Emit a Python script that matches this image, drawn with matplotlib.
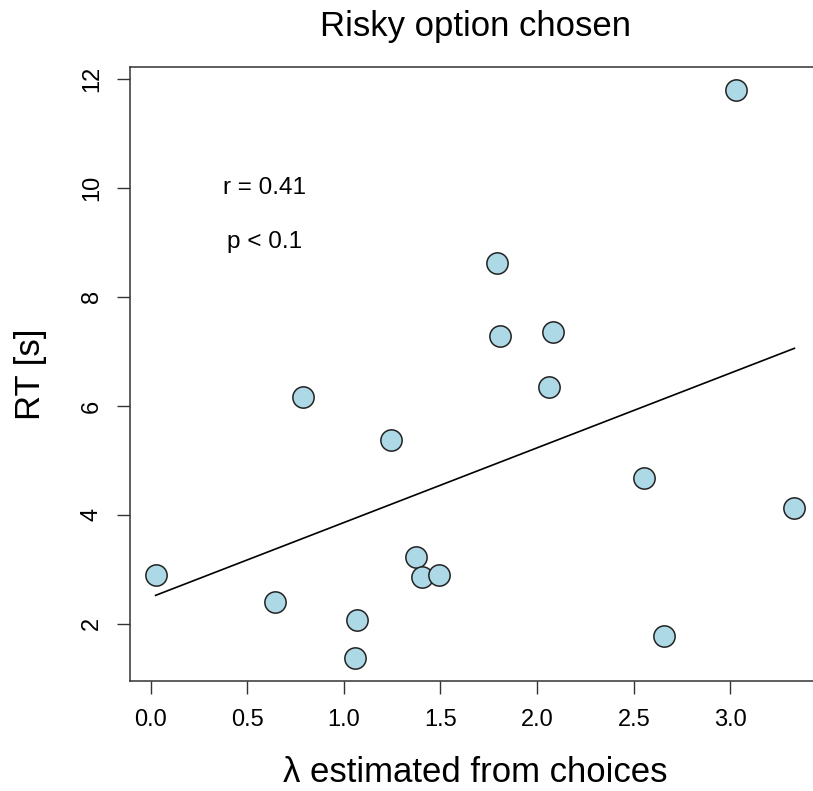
import numpy as np
import matplotlib
matplotlib.use("Agg")
import matplotlib.pyplot as plt

plt.rcParams['font.family'] = ['Liberation Sans', 'DejaVu Sans']

# lambda estimates and RTs
lam = [0.026, 0.646, 0.789, 1.067, 1.060, 1.243, 1.371, 1.405, 1.491,
       1.790, 1.807, 2.080, 2.061, 2.551, 2.658, 3.028, 3.331]
rt = [2.90, 2.41, 6.16, 2.07, 1.37, 5.38, 3.22, 2.86, 2.89,
      8.62, 7.28, 7.36, 6.35, 4.68, 1.78, 11.80, 4.12]
xticks = [0.0, 0.5, 1.0, 1.5, 2.0, 2.5, 3.0]
yticks = [2, 4, 6, 8, 10, 12]
stats_txt = ["r = 0.41", "p < 0.1"]

lam = np.array(lam)
rt = np.array(rt)

fig = plt.figure(figsize=(8.13, 7.91), dpi=100)
W, H = 813, 791
ax = fig.add_axes([130 / W, (H - 681) / H, 690 / W, 614 / H])

ax.scatter(lam, rt, s=235, facecolor='#add8e6', edgecolor='#222222',
           linewidth=1.1, zorder=3)

# linear fit, drawn over the data range like abline on lm
b, a = np.polyfit(lam, rt, 1)
xs = np.array([lam.min(), lam.max()])
ax.plot(xs, a + b * xs, color='black', lw=1.2, zorder=2)

ax.text(0.59, 10.0, stats_txt[0], fontsize=17.5, ha='center', va='center')
ax.text(0.59, 9.0, stats_txt[1], fontsize=17.5, ha='center', va='center')

# R-style 4% range extension
dx = 0.04 * (lam.max() - lam.min())
dy = 0.04 * (rt.max() - rt.min())
ax.set_xlim(lam.min() - dx, lam.max() + dx)
ax.set_ylim(rt.min() - dy, rt.max() + dy)

ax.set_xticks(xticks)
ax.set_xticklabels(["%.1f" % t for t in xticks])
ax.set_yticks(yticks)
ax.tick_params(axis='both', direction='out', length=9.5, width=1.0,
               color='#333333', labelsize=17)
ax.tick_params(axis='x', pad=11)
ax.tick_params(axis='y', pad=10, labelrotation=90)
for lbl in ax.get_yticklabels():
    lbl.set_verticalalignment('center')

for sp in ax.spines.values():
    sp.set_color('#333333')
    sp.set_linewidth(1.1)

ax.set_title("Risky option chosen", fontsize=25, pad=22)
ax.set_xlabel(u"\u03bb estimated from choices", fontsize=25, va='bottom')
ax.xaxis.set_label_coords(0.5, -(789 - 681) / 614)
ax.set_ylabel("RT [s]", fontsize=25, va='center')
ax.yaxis.set_label_coords(-(130 - 31) / 690, 0.5)

fig.savefig("out.png", dpi=100)
